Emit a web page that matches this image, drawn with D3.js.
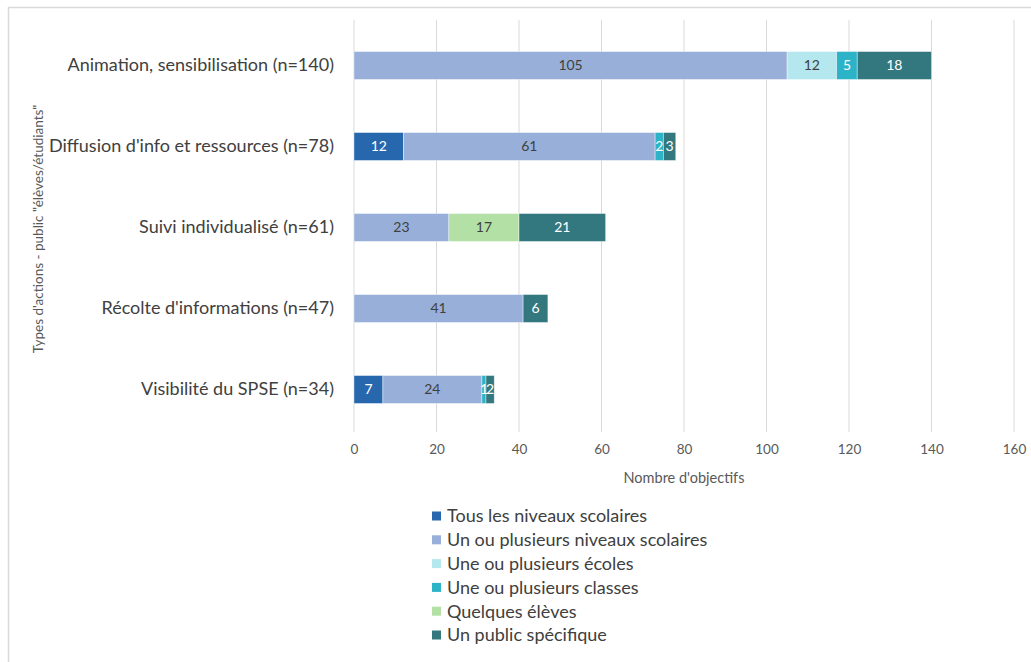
<!DOCTYPE html>
<html lang="fr">
<head>
<meta charset="utf-8">
<script src="https://cdn.jsdelivr.net/npm/d3@7"></script>
<style>
  html, body { margin: 0; padding: 0; background: #fff; }
  svg { display: block; font-family: Lato, "Open Sans", sans-serif; }
</style>
</head>
<body>
<svg id="chart" width="1031" height="662"></svg>
<script>
// Types d'actions (axe vertical)
const categories = [
  "Animation, sensibilisation (n=140)",
  "Diffusion d'info et ressources (n=78)",
  "Suivi individualisé (n=61)",
  "Récolte d'informations (n=47)",
  "Visibilité du SPSE (n=34)"
];

// Publics visés (séries empilées)
const seriesNames = [
  "Tous les niveaux scolaires",
  "Un ou plusieurs niveaux scolaires",
  "Une ou plusieurs écoles",
  "Une ou plusieurs classes",
  "Quelques élèves",
  "Un public spécifique"
];

// Nombre d'objectifs par série, dans l'ordre des catégories
const tousNiveaux      = [0, 12, 0, 0, 7];
const unOuPlusNiveaux  = [105, 61, 23, 41, 24];
const unOuPlusEcoles   = [12, 0, 0, 0, 0];
const unOuPlusClasses  = [5, 2, 0, 0, 1];
const quelquesEleves   = [0, 0, 17, 0, 0];
const publicSpecifique = [18, 3, 21, 6, 2];

const xTicks = [0, 20, 40, 60, 80, 100, 120, 140, 160];

const colors = ["#2767ae", "#98b0d9", "#b4e8ee", "#2db3c7", "#b2e0a5", "#33787f"];
const labelColors = ["#ffffff", "#404040", "#404040", "#ffffff", "#404040", "#ffffff"];

const seriesValues = [tousNiveaux, unOuPlusNiveaux, unOuPlusEcoles, unOuPlusClasses, quelquesEleves, publicSpecifique];

const rows = categories.map((c, i) => {
  const r = { cat: c };
  seriesNames.forEach((s, j) => { r[s] = seriesValues[j][i]; });
  return r;
});

const stacked = d3.stack().keys(seriesNames)(rows);

const svg = d3.select("#chart");

// Cadre
svg.append("path")
  .attr("d", "M8.5,662 L8.5,7.5 L1031,7.5")
  .attr("fill", "none")
  .attr("stroke", "#d9d9d9")
  .attr("stroke-width", 1.5);

const plot = { left: 354, right: 1014, top: 25, bottom: 432 };

const x = d3.scaleLinear().domain([0, 160]).range([plot.left, plot.right]);
const y = d3.scaleBand().domain(categories).range([plot.top, 430]).paddingInner(0.655).paddingOuter(0.3275);

// Grille verticale
svg.append("g")
  .selectAll("line")
  .data(xTicks)
  .join("line")
  .attr("x1", d => x(d)).attr("x2", d => x(d))
  .attr("y1", plot.top - 5).attr("y2", plot.bottom)
  .attr("stroke", "#d9d9d9")
  .attr("stroke-width", 1);

// Axe horizontal (étiquettes seulement)
const xAxis = svg.append("g")
  .attr("transform", `translate(0,449)`)
  .call(d3.axisBottom(x).tickValues(xTicks).tickSize(0).tickPadding(0));
xAxis.select(".domain").remove();
xAxis.selectAll("text")
  .attr("fill", "#595959")
  .attr("font-size", 13.5)
  .attr("dy", "0.35em")
  .style("font-family", "Lato, sans-serif");

// Axe vertical (libellés de catégories)
const yAxis = svg.append("g")
  .attr("transform", `translate(${plot.left},0)`)
  .call(d3.axisLeft(y).tickSize(0).tickPadding(20));
yAxis.select(".domain").remove();
yAxis.selectAll("text")
  .attr("fill", "#404040")
  .attr("font-size", 18)
  .style("font-family", "Lato, sans-serif");

// Barres empilées
const layers = svg.append("g")
  .selectAll("g")
  .data(stacked)
  .join("g")
  .attr("fill", (d, i) => colors[i]);

layers.selectAll("rect")
  .data(d => d)
  .join("rect")
  .attr("x", d => x(d[0]))
  .attr("y", d => y(d.data.cat))
  .attr("width", d => x(d[1]) - x(d[0]))
  .attr("height", y.bandwidth())
  .attr("stroke", "#ffffff")
  .attr("stroke-opacity", 0.5)
  .attr("stroke-width", 0.8);

// Étiquettes de valeurs
const labels = svg.append("g");
stacked.forEach((layer, i) => {
  labels.selectAll(null)
    .data(layer.filter(d => d[1] - d[0] > 0))
    .join("text")
    .attr("x", d => (x(d[0]) + x(d[1])) / 2)
    .attr("y", d => y(d.data.cat) + y.bandwidth() / 2)
    .attr("dy", "0.35em")
    .attr("text-anchor", "middle")
    .attr("font-size", 14)
    .attr("fill", labelColors[i])
    .text(d => d[1] - d[0]);
});

// Titres des axes
svg.append("text")
  .attr("x", (plot.left + plot.right) / 2)
  .attr("y", 478)
  .attr("dy", "0.35em")
  .attr("text-anchor", "middle")
  .attr("font-size", 14.5)
  .attr("fill", "#595959")
  .text("Nombre d'objectifs");

svg.append("text")
  .attr("transform", `translate(38,229) rotate(-90)`)
  .attr("dy", "0.35em")
  .attr("text-anchor", "middle")
  .attr("font-size", 13.5)
  .attr("fill", "#595959")
  .text("Types d'actions - public \"élèves/étudiants\"");

// Légende
const legend = svg.append("g")
  .selectAll("g")
  .data(seriesNames)
  .join("g")
  .attr("transform", (d, i) => `translate(432,${516 + i * 23.8})`);

legend.append("rect")
  .attr("x", 0).attr("y", -4.5)
  .attr("width", 9).attr("height", 9)
  .attr("fill", (d, i) => colors[i]);

legend.append("text")
  .attr("x", 15)
  .attr("dy", "0.35em")
  .attr("font-size", 18)
  .attr("fill", "#404040")
  .text(d => d);
</script>
</body>
</html>
